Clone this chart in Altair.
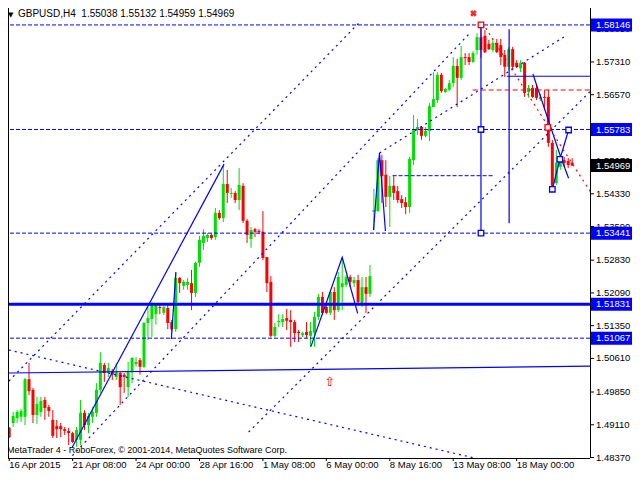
import altair as alt
import pandas as pd
import numpy as np

# ---- H4 candles, bar index 0..142 ----
opens = [1.4904,1.4915,1.4926,1.4929,1.4929,1.5014,1.4990,1.4933,1.4940,1.4967,
         1.4951,1.4922,1.4908,1.4908,1.4901,1.4897,1.4892,1.4877,1.4877,1.4938,
         1.4910,1.4929,1.4938,1.4990,1.5046,1.5028,1.5033,1.5019,1.5028,1.5024,
         1.4996,1.5030,1.5048,1.5057,1.5042,1.5141,1.5150,1.5161,1.5177,1.5164,
         1.5175,1.5143,1.5127,1.5243,1.5225,1.5227,1.5231,1.5209,1.5277,1.5322,
         1.5333,1.5340,1.5335,1.5390,1.5378,1.5455,1.5433,1.5435,1.5419,1.5451,
         1.5372,1.5331,1.5353,1.5349,1.5347,1.5290,1.5234,1.5112,1.5143,1.5143,
         1.5152,1.5148,1.5143,1.5121,1.5114,1.5121,1.5112,1.5118,1.5155,1.5200,
         1.5177,1.5164,1.5211,1.5170,1.5222,1.5227,1.5245,1.5231,1.5238,1.5182,
         1.5222,1.5207,1.5392,1.5394,1.5509,1.5476,1.5426,1.5451,1.5439,1.5421,
         1.5414,1.5403,1.5509,1.5577,1.5584,1.5564,1.5575,1.5629,1.5645,1.5702,
         1.5663,1.5668,1.5683,1.5722,1.5695,1.5742,1.5742,1.5731,1.5758,1.5787,
         1.5790,1.5772,1.5758,1.5774,1.5769,1.5747,1.5720,1.5760,1.5729,1.5717,
         1.5729,1.5663,1.5672,1.5672,1.5647,1.5652,1.5652,1.5548,1.5457,1.5494,
         1.5509,1.5507,1.55038]
highs = [1.4906,1.4940,1.4944,1.4947,1.5017,1.5051,1.4994,1.4974,1.4974,1.4974,
         1.4956,1.4944,1.4922,1.4915,1.4906,1.4904,1.4895,1.4906,1.4967,1.4944,
         1.4938,1.4951,1.5005,1.5075,1.5051,1.5051,1.5037,1.5051,1.5030,1.5028,
         1.5053,1.5064,1.5064,1.5062,1.5143,1.5177,1.5188,1.5186,1.5186,1.5186,
         1.5186,1.5148,1.5256,1.5245,1.5238,1.5243,1.5261,1.5279,1.5338,1.5353,
         1.5344,1.5344,1.5401,1.5396,1.5496,1.5487,1.5446,1.5439,1.5491,1.5457,
         1.5376,1.5358,1.5356,1.5353,1.5394,1.5290,1.5247,1.5141,1.5161,1.5161,
         1.5173,1.5170,1.5148,1.5125,1.5121,1.5143,1.5143,1.5166,1.5207,1.5211,
         1.5182,1.5211,1.5222,1.5256,1.5288,1.5250,1.5250,1.5245,1.5250,1.5245,
         1.5245,1.5272,1.5444,1.5514,1.5521,1.5509,1.5473,1.5473,1.5451,1.5430,
         1.5426,1.5516,1.5611,1.5602,1.5586,1.5584,1.5638,1.5708,1.5708,1.5706,
         1.5672,1.5690,1.5742,1.5738,1.5767,1.5751,1.5751,1.5756,1.5796,1.58146,
         1.5803,1.5781,1.5781,1.5783,1.5783,1.5758,1.5765,1.5765,1.5735,1.5735,
         1.5731,1.5679,1.5679,1.5679,1.5659,1.5668,1.5668,1.5555,1.5532,1.5521,
         1.5516,1.5514,1.55132]
lows = [1.4881,1.4906,1.4915,1.4917,1.4910,1.4978,1.4915,1.4913,1.4929,1.4922,
        1.4929,1.4881,1.4881,1.4883,1.4888,1.4865,1.4870,1.4861,1.4865,1.4899,
        1.4892,1.4915,1.4929,1.4983,1.5008,1.5019,1.5012,1.5012,1.4956,1.4983,
        1.4974,1.5005,1.5042,1.5024,1.5039,1.5103,1.5109,1.5137,1.5161,1.5159,
        1.5127,1.5123,1.5121,1.5209,1.5216,1.5216,1.5170,1.5200,1.5268,1.5306,
        1.5324,1.5329,1.5329,1.5374,1.5369,1.5412,1.5424,1.5412,1.5396,1.5367,
        1.5322,1.5311,1.5335,1.5342,1.5283,1.5211,1.5109,1.5109,1.5132,1.5132,
        1.5125,1.5087,1.5098,1.5098,1.5109,1.5107,1.5087,1.5087,1.5148,1.5159,
        1.5161,1.5159,1.5148,1.5166,1.5170,1.5222,1.5222,1.5222,1.5182,1.5177,
        1.5164,1.5200,1.5351,1.5392,1.5412,1.5403,1.5358,1.5419,1.5412,1.5401,
        1.5387,1.5390,1.5498,1.5566,1.5555,1.5561,1.5552,1.5629,1.5638,1.5661,
        1.5661,1.5665,1.5674,1.5629,1.5690,1.5724,1.5724,1.5729,1.5747,1.5740,
        1.5751,1.5758,1.5753,1.5751,1.5724,1.5697,1.5713,1.5713,1.5717,1.5708,
        1.5652,1.5650,1.5650,1.5645,1.5643,1.5622,1.5539,1.5446,1.5453,1.5487,
        1.5494,1.5491,1.54959]
closes = [1.4883,1.4931,1.4940,1.4942,1.5014,1.4987,1.4933,1.4958,1.4965,1.4949,
          1.4942,1.4886,1.4901,1.4901,1.4897,1.4892,1.4872,1.4899,1.4938,1.4910,
          1.4931,1.4940,1.4990,1.5051,1.5028,1.5039,1.5024,1.5030,1.4996,1.5019,
          1.5030,1.5062,1.5053,1.5042,1.5141,1.5152,1.5186,1.5184,1.5175,1.5177,
          1.5141,1.5127,1.5243,1.5231,1.5234,1.5234,1.5209,1.5277,1.5329,1.5338,
          1.5340,1.5333,1.5390,1.5378,1.5455,1.5435,1.5435,1.5419,1.5453,1.5372,
          1.5340,1.5351,1.5347,1.5347,1.5288,1.5231,1.5112,1.5132,1.5146,1.5150,
          1.5146,1.5143,1.5118,1.5118,1.5118,1.5114,1.5123,1.5155,1.5200,1.5164,
          1.5164,1.5211,1.5170,1.5245,1.5231,1.5245,1.5234,1.5238,1.5188,1.5222,
          1.5207,1.5247,1.5396,1.5509,1.5473,1.5426,1.5451,1.5435,1.5419,1.5412,
          1.5403,1.5512,1.5577,1.5584,1.5564,1.5575,1.5631,1.5647,1.5702,1.5665,
          1.5670,1.5683,1.5722,1.5695,1.5742,1.5740,1.5731,1.5751,1.5787,1.5758,
          1.5753,1.5760,1.5774,1.5753,1.5742,1.5720,1.5760,1.5720,1.5720,1.5729,
          1.5661,1.5672,1.5652,1.5650,1.5652,1.5650,1.5548,1.5451,1.5503,1.5509,
          1.5503,1.5498,1.54969]

# ---- axis labels ----
date_ticks = [0, 16, 32, 48, 64, 80, 96, 112, 128]
date_labels = ["16 Apr 2015", "21 Apr 08:00", "24 Apr 00:00", "28 Apr 16:00",
               "1 May 08:00", "6 May 00:00", "8 May 16:00", "13 May 08:00", "18 May 00:00"]
axis_prices = [1.58050, 1.57310, 1.56570, 1.55830, 1.55070, 1.54330, 1.53590,
               1.52830, 1.52090, 1.51350, 1.50610, 1.49850, 1.49110, 1.48370]

# ---- levels ----
dashed_levels = [1.58146, 1.55783, 1.53441, 1.51067]
support_level = [1.51831]
level_boxes = [1.58146, 1.55783, 1.53441, 1.51831, 1.51067]
bid_box = [1.54969]

# ---- drawn objects: (bar index, price) ----
solid_lines = {
    "trend": [(-0.075, 1.50280), (148.425, 1.50438)],
    "lvl2": [(125.5, 1.56986), (148.425, 1.56986)],
    "zig1": [(15.9, 1.48600), (54.2, 1.55000)],
    "zig2": [(40.9, 1.51050), (42.05, 1.52560)],
    "zig3": [(76.1, 1.50875), (84.0, 1.52895), (87.9, 1.51629)],
    "zig4": [(91.9, 1.53512), (93.4, 1.55252), (94.9, 1.53489)],
    "zig5": [(132.1, 1.57038), (139.2, 1.55139), (141.1, 1.54680)],
    "zig6": [(137.0, 1.54432), (138.9, 1.55110), (141.1, 1.55772)],
    "vert1": [(119.0, 1.58146), (119.0, 1.53441)],
    "vert2": [(126.1, 1.58048), (126.1, 1.53663)],
}
dotted_lines = {
    "chA": [(-0.075, 1.50099), (88.7, 1.58235)],
    "chB": [(14.9, 1.48314), (116.2, 1.57964)],
    "chC": [(60.4, 1.48947), (148.425, 1.56812)],
    "chD": [(93.4, 1.55252), (139.9, 1.57874)],
    "chF": [(-0.075, 1.50800), (121.7, 1.48269)],
}
blue_dash_seg = {"mid": [(96.7, 1.54739), (122.2, 1.54739)]}
red_dash_seg = {"tgt": [(116.9, 1.56676), (148.425, 1.56676)]}
red_dot_path = {"proj": [(120.2, 1.58077), (135.9, 1.55862), (148.425, 1.54122)]}

blue_squares_i = [119.0, 119.0, 137.0, 138.9, 141.1]
blue_squares_p = [1.55783, 1.53441, 1.54432, 1.55110, 1.55772]
red_squares_i = [119.0, 135.85]
red_squares_p = [1.58146, 1.55833]
cross_i, cross_p = [117.1], [1.58409]
arrow_i, arrow_p = [80.85], [1.50084]

title_text = "GBPUSD,H4\u00a0\u00a01.55038 1.55132 1.54959 1.54969"
footer_text = "MetaTrader 4 - RoboForex, \u00a9 2001-2014, MetaQuotes Software Corp."

# ---- geometry (page 640x480 with 8px margins -> 624x464 drawing) ----
W, H = 582, 450
RIGHT, BOTTOM = 42, 14
FONT = "Liberation Sans"
FS = 9.5
BLUE = "#0000ff"
RED = "#ff0000"
GREEN = "#00e000"
P_TOP, P_BOT = 1.58529, 1.48359

xs = alt.Scale(domain=[-0.3, 146.5], nice=False, zero=False, padding=0)
ys = alt.Scale(domain=[P_BOT, P_TOP], nice=False, zero=False, padding=0)
X = lambda f: alt.X(f, scale=xs, axis=None)
Y = lambda f: alt.Y(f, scale=ys, axis=None)

df = pd.DataFrame({"i": np.arange(len(opens)), "open": opens, "high": highs,
                   "low": lows, "close": closes})
df["dir"] = np.where(df["close"] >= df["open"], "up", "down")
df["btop"] = df[["open", "close"]].max(axis=1)
df["bbot"] = np.minimum(df[["open", "close"]].min(axis=1), df["btop"] - 0.00023)

color = alt.Color("dir:N", scale=alt.Scale(domain=["up", "down"], range=[GREEN, RED]), legend=None)

wicks = alt.Chart(df).mark_rule(strokeWidth=1).encode(
    x=X("i:Q"), y=Y("low:Q"), y2="high:Q", color=color)
bodies = alt.Chart(df).mark_bar(size=3).encode(
    x=X("i:Q"), y=Y("btop:Q"), y2="bbot:Q", color=color)


def lines_df(d):
    rows = []
    for name, pts in d.items():
        for k, (i, p) in enumerate(pts):
            rows.append({"name": name, "k": k, "i": i, "p": p})
    return pd.DataFrame(rows)


def line_layer(d, **mark):
    return alt.Chart(lines_df(d)).mark_line(clip=True, **mark).encode(
        x=X("i:Q"), y=Y("p:Q"), detail="name:N", order="k:Q")


dashed = alt.Chart(pd.DataFrame({"p": dashed_levels})).mark_rule(
    color=BLUE, strokeDash=[4, 2], strokeWidth=1).encode(y=Y("p:Q"))
support = alt.Chart(pd.DataFrame({"p": support_level})).mark_rule(
    color=BLUE, strokeWidth=3).encode(y=Y("p:Q"))

solid = line_layer(solid_lines, color=BLUE, strokeWidth=1.2)
dotted = line_layer(dotted_lines, color=BLUE, strokeWidth=1.2, strokeDash=[2, 4])
bdash = line_layer(blue_dash_seg, color=BLUE, strokeWidth=1, strokeDash=[4, 2])
rdash = line_layer(red_dash_seg, color=RED, strokeWidth=1, strokeDash=[5, 3])
rdot = line_layer(red_dot_path, color=RED, strokeWidth=1.2, strokeDash=[2, 4])


def pts(iv, pv):
    return pd.DataFrame({"i": iv, "p": pv})


bsq = alt.Chart(pts(blue_squares_i, blue_squares_p)).mark_point(
    shape="square", size=30, filled=True, fill="white", stroke=BLUE, strokeWidth=1.3, opacity=1).encode(
    x=X("i:Q"), y=Y("p:Q"))
rsq = alt.Chart(pts(red_squares_i, red_squares_p)).mark_point(
    shape="square", size=30, filled=True, fill="white", stroke=RED, strokeWidth=1.3, opacity=1).encode(
    x=X("i:Q"), y=Y("p:Q"))
cross = alt.Chart(pts(cross_i, cross_p)).mark_point(
    shape="cross", angle=45, size=45, filled=True, color="#ff2a2a", opacity=1).encode(
    x=X("i:Q"), y=Y("p:Q"))
arrow = alt.Chart(pts(arrow_i, arrow_p)).mark_text(
    text="\u21e7", font="DejaVu Sans", fontSize=13, color=RED).encode(
    x=X("i:Q"), y=Y("p:Q"))

# ---- hand-made axes (MetaTrader style) ----
xt = pd.DataFrame({"i": date_ticks, "lab": date_labels})
x_ticks = alt.Chart(xt).mark_rule(color="black").encode(
    x=X("i:Q"), y=alt.value(H), y2=alt.value(H + 3))
x_labels = alt.Chart(xt).mark_text(align="left", baseline="top", font=FONT, fontSize=FS,
                                    color="black").encode(
    x=X("i:Q"), y=alt.value(H + 2), text="lab:N")
yt = pd.DataFrame({"p": axis_prices})
y_ticks = alt.Chart(yt).mark_rule(color="black").encode(
    y=Y("p:Q"), x=alt.value(W), x2=alt.value(W + 4))
y_labels = alt.Chart(yt).mark_text(align="left", baseline="middle", font=FONT, fontSize=FS,
                                    color="black").encode(
    y=Y("p:Q"), x=alt.value(W + 6), text=alt.Text("p:Q", format=".5f"))

frame = alt.Chart(pd.DataFrame({"t": [0]}))
left_border = frame.mark_rule(color="black").encode(x=alt.value(0.5), y=alt.value(0), y2=alt.value(H))
right_border = frame.mark_rule(color="black").encode(x=alt.value(W + 0.5), y=alt.value(0), y2=alt.value(H))
bottom_border = frame.mark_rule(color="black").encode(y=alt.value(H + 0.5), x=alt.value(0), x2=alt.value(W))

half = 6.5 * (P_TOP - P_BOT) / H


def box_layer(prices, fill):
    b = pd.DataFrame({"p": prices})
    b["top"] = b["p"] + half
    b["bot"] = b["p"] - half
    rect = alt.Chart(b).mark_rect(color=fill).encode(
        x=alt.value(W + 1), x2=alt.value(W + RIGHT), y=Y("top:Q"), y2="bot:Q")
    txt = alt.Chart(b).mark_text(align="left", baseline="middle", font=FONT, fontSize=FS,
                                 color="white").encode(
        x=alt.value(W + 6), y=Y("p:Q"), text=alt.Text("p:Q", format=".5f"))
    return rect + txt


level_box_layer = box_layer(level_boxes, BLUE)
bid_box_layer = box_layer(bid_box, "#000000")

title = alt.Chart(pd.DataFrame({"t": [title_text]})).mark_text(
    align="left", baseline="top", font=FONT, fontSize=10, color="black").encode(
    x=alt.value(10), y=alt.value(1), text="t:N")
tri = alt.Chart(pd.DataFrame({"t": ["\u25bc"]})).mark_text(
    align="left", baseline="top", font="DejaVu Sans", fontSize=7, color="black").encode(
    x=alt.value(0), y=alt.value(3), text="t:N")
footer = alt.Chart(pd.DataFrame({"t": [footer_text]})).mark_text(
    align="left", baseline="middle", font=FONT, fontSize=9, color="black").encode(
    x=alt.value(-1), y=alt.value(442), text="t:N")

chart = alt.layer(
    wicks, bodies, dashed, support, dotted, solid, bdash, rdash, rdot,
    bsq, rsq, cross, arrow,
    x_ticks, x_labels, y_ticks, y_labels, left_border, right_border, bottom_border,
    level_box_layer, bid_box_layer, title, tri, footer,
).properties(
    width=W, height=H,
    autosize=alt.AutoSizeParams(type="none"),
    padding={"left": 0, "top": 0, "right": RIGHT, "bottom": BOTTOM},
    background="white",
).configure_view(stroke=None)

chart.save("out.html", embed_options={"renderer": "svg", "actions": False})
